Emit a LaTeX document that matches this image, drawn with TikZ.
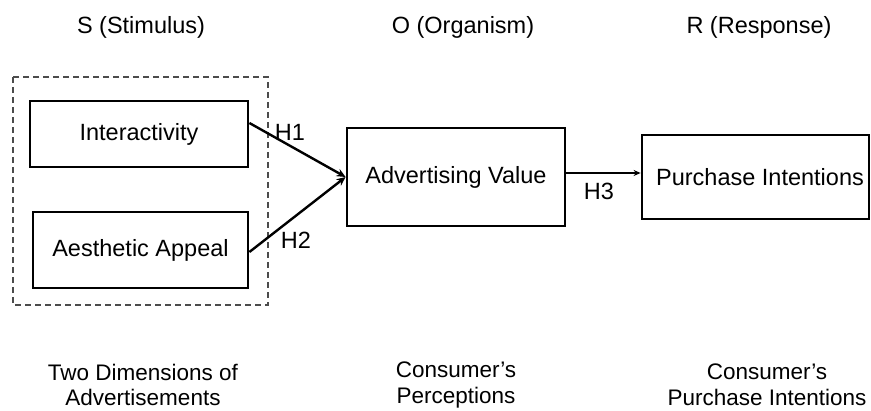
\documentclass[tikz,border=0pt]{standalone}
\usepackage{fontspec}
\setmainfont{Liberation Sans}
\usetikzlibrary{arrows.meta}

\begin{document}
\begin{tikzpicture}[x=1pt,y=-1pt,
  every node/.style={font=\fontsize{23.5}{26}\selectfont},
  varbox/.style={draw=black,line width=2.8pt,inner sep=0pt},
  link/.style={line width=2.4pt,-{Stealth[length=9pt,width=8pt]}},
  hlabel/.style={inner sep=0pt},
  caption/.style={align=center,inner sep=0pt,font=\fontsize{22.5}{25.5}\selectfont}]
\useasboundingbox (0,0) rectangle (871,411);

% stage headings
\node (hs) at (141,27) {S (Stimulus)};
\node (ho) at (463,27) {O (Organism)};
\node (hr) at (759,27) {R (Response)};

% stimulus group
\draw[draw=black!70,line width=1.4pt,dash pattern=on 6pt off 4pt]
  (13,77) rectangle (268,305);

% variables
\node[varbox,minimum width=218pt,minimum height=66pt] (ia) at (139,134) {Interactivity};
\node[varbox,minimum width=215pt,minimum height=76pt] (aa) at (140.5,250) {Aesthetic Appeal};
\node[varbox,minimum width=218pt,minimum height=98pt] (av) at (456,177) {Advertising Value};
\node[varbox,minimum width=227pt,minimum height=84pt] (pi) at (755.5,177) {\hspace*{9pt}Purchase Intentions};

% hypothesised paths
\coordinate (iaout) at ([yshift=11pt]ia.east);
\coordinate (aaout) at ([yshift=-2pt]aa.east);
\coordinate (avout) at ([yshift=4pt]av.east);
\draw[link] (iaout) -- (av.west);
\draw[link] (aaout) -- (av.west);
\draw[line width=2.4pt,-{Stealth[length=7pt,width=6pt]}] (avout) -- (avout -| pi.west);

\node[hlabel] (h1) at (290,132) {H1};
\node[hlabel] (h2) at (296,240) {H2};
\node[hlabel] (h3) at (599,191) {H3};

% stage descriptions
\node[caption] (cs) at (143,385) {Two Dimensions of\\Advertisements};
\node[caption] (co) at (456,385) {Consumer’s\\Perceptions};
\node[caption] (cr) at (767,385) {Consumer’s\\Purchase Intentions};
\end{tikzpicture}
\end{document}
